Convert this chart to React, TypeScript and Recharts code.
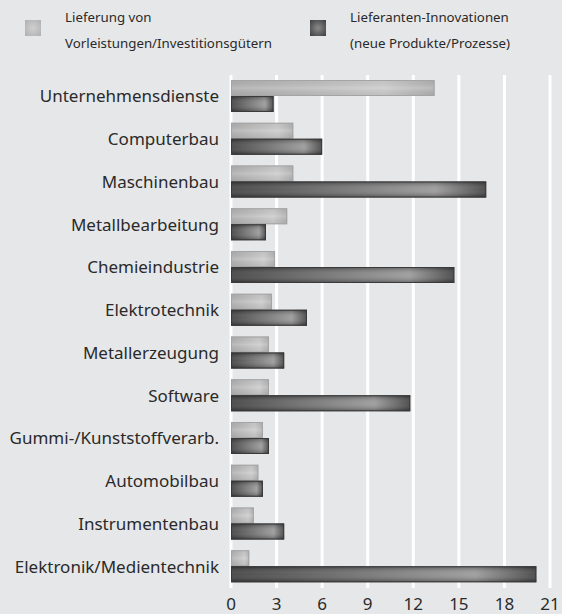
import React from "react";
import { BarChart, Bar, XAxis, YAxis, CartesianGrid } from "recharts";

const categories = [
  "Unternehmensdienste",
  "Computerbau",
  "Maschinenbau",
  "Metallbearbeitung",
  "Chemieindustrie",
  "Elektrotechnik",
  "Metallerzeugung",
  "Software",
  "Gummi-/Kunststoffverarb.",
  "Automobilbau",
  "Instrumentenbau",
  "Elektronik/Medientechnik",
];
const lieferung = [13.4, 4.1, 4.1, 3.7, 2.9, 2.7, 2.5, 2.5, 2.1, 1.8, 1.5, 1.2];
const innovationen = [2.8, 6.0, 16.8, 2.3, 14.7, 5.0, 3.5, 11.8, 2.5, 2.1, 3.5, 20.1];
const xTicks = [0, 3, 6, 9, 12, 15, 18, 21];
const legendLabels = [
  ["Lieferung von", "Vorleistungen/Investitionsgütern"],
  ["Lieferanten-Innovationen", "(neue Produkte/Prozesse)"],
];

const data = categories.map((c, i) => ({ name: c, a: lieferung[i], b: innovationen[i] }));

const FONT = "'Noto Sans', sans-serif";

const GradBar = (props: any) => {
  const { x, y, width, height, kind } = props;
  if (!width || width <= 0) return null;
  const h = `url(#h-${kind})`;
  const v = `url(#v-${kind})`;
  const stroke = kind === "a" ? "#a4a4a4" : "#3a3a3a";
  return (
    <g>
      <rect x={x} y={y} width={width} height={height} fill={h} />
      <rect x={x} y={y} width={width} height={height} fill={v} />
      <rect x={x + 0.5} y={y + 0.5} width={Math.max(width - 1, 0)} height={height - 1} fill="none" stroke={stroke} strokeWidth={1} />
    </g>
  );
};

const LegendBlock = () => (
  <div style={{ position: "absolute", left: 0, top: 0, width: 562, height: 60, fontFamily: FONT, fontSize: 13.3, color: "#2a2a2a" }}>
    {[0, 1].map((i) => (
      <div key={i} style={{ position: "absolute", left: i === 0 ? 25 : 310, top: 4 }}>
        <div
          style={{
            position: "absolute",
            left: 0,
            top: 16,
            width: 16,
            height: 16,
            background:
              i === 0
                ? "radial-gradient(circle, #cfcfcf 0%, #b0b0b0 100%)"
                : "radial-gradient(circle, #8a8a8a 0%, #3e3e3e 100%)",
          }}
        />
        <div style={{ position: "absolute", left: 40, top: 0, whiteSpace: "nowrap", lineHeight: "26px" }}>
          <div>{legendLabels[i][0]}</div>
          <div>{legendLabels[i][1]}</div>
        </div>
      </div>
    ))}
  </div>
);

export default function App() {
  return (
    <div style={{ position: "fixed", left: 0, top: 0, width: 562, height: 614, background: "#e6e7e9" }}>
      <BarChart
        width={562}
        height={614}
        data={data}
        layout="vertical"
        margin={{ top: 75, right: 12, bottom: 0, left: 0 }}
        barGap={0}
        barCategoryGap={5}
      >
        <defs>
          <linearGradient id="h-a" x1="0" y1="0" x2="1" y2="0">
            <stop offset="0%" stopColor="#b0b0b0" />
            <stop offset="75%" stopColor="#cdcdcd" />
            <stop offset="100%" stopColor="#b2b2b2" />
          </linearGradient>
          <linearGradient id="v-a" x1="0" y1="0" x2="0" y2="1">
            <stop offset="0%" stopColor="#000000" stopOpacity={0.04} />
            <stop offset="50%" stopColor="#ffffff" stopOpacity={0.12} />
            <stop offset="100%" stopColor="#000000" stopOpacity={0.06} />
          </linearGradient>
          <linearGradient id="h-b" x1="0" y1="0" x2="1" y2="0">
            <stop offset="0%" stopColor="#3e3e3e" />
            <stop offset="80%" stopColor="#999999" />
            <stop offset="100%" stopColor="#404040" />
          </linearGradient>
          <linearGradient id="v-b" x1="0" y1="0" x2="0" y2="1">
            <stop offset="0%" stopColor="#000000" stopOpacity={0.35} />
            <stop offset="50%" stopColor="#ffffff" stopOpacity={0.08} />
            <stop offset="100%" stopColor="#000000" stopOpacity={0.35} />
          </linearGradient>
        </defs>
        <CartesianGrid horizontal={false} stroke="#ffffff" strokeWidth={3} />
        <XAxis
          type="number"
          domain={[0, 21]}
          ticks={xTicks}
          axisLine={false}
          tickLine={false}
          tickSize={0}
          tickMargin={10}
          height={26}
          interval={0}
          tick={{ fontFamily: FONT, fontSize: 17, fill: "#2a2a2a" }}
        />
        <YAxis
          type="category"
          dataKey="name"
          width={231}
          axisLine={false}
          tickLine={false}
          tickSize={0}
          tickMargin={12}
          interval={0}
          tick={{ fontFamily: FONT, fontSize: 17, fill: "#2a2a2a" }}
        />
        <Bar dataKey="a" barSize={16} isAnimationActive={false} shape={(p: any) => <GradBar {...p} kind="a" />} />
        <Bar dataKey="b" barSize={16} isAnimationActive={false} shape={(p: any) => <GradBar {...p} kind="b" />} />
      </BarChart>
      <LegendBlock />
    </div>
  );
}
